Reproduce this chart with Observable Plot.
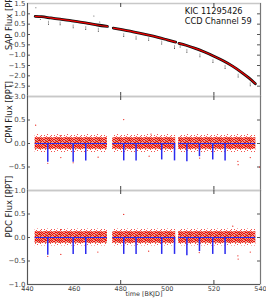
<!DOCTYPE html>
<html>
<head>
<meta charset="utf-8">
<script src="https://cdn.jsdelivr.net/npm/d3@7"></script>
<script src="https://cdn.jsdelivr.net/npm/@observablehq/plot@0.6"></script>
<style>
  body { margin: 0; background: #fff; }
  #wrap { position: relative; width: 266px; height: 300px; overflow: hidden; font-family: "DejaVu Sans", sans-serif; }
  #wrap svg.panel { position: absolute; left: 0; }
</style>
</head>
<body>
<svg width="0" height="0" style="position:absolute"><defs id="defs"></defs></svg>
<div id="wrap"></div>
<script>
// ---------- data ----------
const xTicks = [440, 460, 480, 500, 520, 540];
const xMarkTicks = [480, 520];
const sapTicks = [1.5, 1.0, 0.5, 0.0, -0.5, -1.0, -1.5, -2.0, -2.5, -3.0];
const sapInnerTicks = [1.0, 0.5, 0.0, -0.5, -1.0, -1.5, -2.0, -2.5];
const fluxTicks = [0.5, 0.0, -0.5, -1.0];
const fluxInnerTicks = [0.5, 0.0, -0.5];

// observing segments (BKJD)
const segStart = [443.3, 476.6, 504.9];
const segEnd = [474.3, 503.6, 538.0];

// SAP trend (black points + red model), per segment
const sapTime = [443.3, 446, 450, 454, 458, 462, 466, 470, 474.3,
                 476.8, 480, 484, 488, 492, 496, 500, 503.6,
                 505.0, 508, 512, 516, 520, 524, 528, 532, 535, 537.8];
const sapFlux = [0.88, 0.86, 0.80, 0.74, 0.68, 0.61, 0.54, 0.46, 0.39,
                 0.31, 0.25, 0.16, 0.07, -0.03, -0.14, -0.26, -0.37,
                 -0.43, -0.52, -0.67, -0.85, -1.05, -1.27, -1.53, -1.84, -2.10, -2.38];
const sapSeg = [0,0,0,0,0,0,0,0,0, 1,1,1,1,1,1,1,1, 2,2,2,2,2,2,2,2,2,2];

// SAP dips / outliers (streak bottom and top)
const sapDipTime = [449.0, 454.0, 459.6, 465.0, 470.4, 481.3, 486.6, 492.0, 497.6, 503.1, 505.5, 508.4, 514.0, 519.6, 524.8, 530.4, 535.6];
const sapDipLow  = [0.50, 0.47, 0.33, 0.24, 0.16, -0.10, -0.22, -0.28, -0.46, -0.68, -0.60, -0.86, -1.08, -1.36, -1.64, -2.06, -2.48];
const sapDipHigh = [0.64, 0.60, 0.46, 0.38, 0.30, 0.04, -0.08, -0.16, -0.32, -0.54, -0.52, -0.72, -0.94, -1.22, -1.50, -1.92, -2.34];
const sapOutTime = [443.6, 445.5, 468.5, 471.0];
const sapOutFlux = [1.30, 0.72, 0.90, 0.60];

// transits (blue model dips)
const transitTime = [448.7, 459.6, 465.0, 481.3, 486.6, 497.6, 503.1, 508.4, 513.8, 519.5, 524.8];
const cpmDepth = [-0.40, -0.40, -0.37, -0.37, -0.37, -0.35, -0.37, -0.39, -0.28, -0.35, -0.37];
const pdcDepth = [-0.38, -0.36, -0.36, -0.36, -0.36, -0.36, -0.36, -0.39, -0.30, -0.36, -0.36];

// noise band envelopes per segment (dense core, sparse fringe)
const cpmBandLow = [-0.12, -0.12, -0.12];
const cpmBandHigh = [0.12, 0.12, 0.12];
const cpmFringeLow = [-0.19, -0.19, -0.19];
const cpmFringeHigh = [0.19, 0.19, 0.19];
const pdcBandLow = [-0.12, -0.12, -0.12];
const pdcBandHigh = [0.12, 0.12, 0.12];
const pdcFringeLow = [-0.18, -0.18, -0.18];
const pdcFringeHigh = [0.18, 0.18, 0.18];

// residual outliers
const cpmOutTime = [443.5, 448.7, 454.0, 454.3, 459.6, 470.3, 481.3, 492.2, 493.0, 513.9, 530.3, 530.4, 535.6, 539.6];
const cpmOutFlux = [0.39, -0.42, 0.17, -0.30, -0.41, -0.29, 0.51, -0.27, 0.20, -0.31, -0.38, -0.45, -0.30, -0.50];
const pdcOutTime = [448.7, 454.2, 454.3, 470.2, 481.3, 492.0, 513.7, 528.1, 530.3, 530.4, 535.6];
const pdcOutFlux = [-0.40, 0.17, -0.36, -0.31, 0.49, -0.29, -0.32, 0.24, -0.39, -0.46, -0.31];

const labels = ["SAP Flux [PPT]", "CPM Flux [PPT]", "PDC Flux [PPT]"];
const annotText = ["KIC 11295426", "CCD Channel 59"];
const annotTime = [507.5, 507.5];
const annotFlux = [1.11, 0.63];
const xLabel = "time [BKJD]";

// ---------- speckle textures (style only) ----------
(function buildPatterns() {
  const redRows = ["1011001010", "0100110101", "1010011010", "0101100101", "1010010011", "0101001100", "1000110010", "0011001001"];
  const sparseRows = ["1000001000", "0001000010", "0100000100", "0000100001", "0010000000", "1000010000", "0000000100", "0100100000"];
  const oliveCells = [[4,0],[9,2],[6,4],[0,5],[7,6],[5,7]];
  let s = '<pattern id="noise" width="10" height="8" patternUnits="userSpaceOnUse">';
  s += '<rect width="10" height="8" fill="#e77e69" fill-opacity="0.75"/>';
  redRows.forEach((row, y) => [...row].forEach((c, x) => {
    if (c === "1") s += `<rect x="${x}" y="${y}" width="1" height="1" fill="#f00a05"/>`;
  }));
  oliveCells.forEach(([x, y]) => s += `<rect x="${x}" y="${y}" width="1" height="1" fill="#9a8a62"/>`);
  s += '</pattern>';
  s += '<pattern id="fringe" width="10" height="8" patternUnits="userSpaceOnUse">';
  sparseRows.forEach((row, y) => [...row].forEach((c, x) => {
    if (c === "1") s += `<rect x="${x}" y="${y}" width="1" height="1" fill="#f2241c" fill-opacity="0.8"/>`;
  }));
  s += '</pattern>';
  document.getElementById("defs").innerHTML = s;
})();

// ---------- helpers ----------
const sap = sapTime.map((t, i) => ({t, f: sapFlux[i], s: sapSeg[i]}));
const dips = sapDipTime.map((t, i) => ({t, lo: sapDipLow[i], hi: sapDipHigh[i]}));
const sapOut = sapOutTime.map((t, i) => ({t, f: sapOutFlux[i]}));
const bandRows = (lo, hi) => segStart.flatMap((s, i) => [
  {t: s, lo: lo[i], hi: hi[i], s: i}, {t: segEnd[i], lo: lo[i], hi: hi[i], s: i}]);
const segRows = segStart.map((s, i) => ({a: s, b: segEnd[i]}));
const transits = (depth) => transitTime.map((t, i) => ({t, d: depth[i]}));
const pts = (T, F) => T.map((t, i) => ({t, f: F[i]}));
const fmt = d3.format(".1f");
const FONT = "DejaVu Sans";
const BLUE = "#2b2bef";
const RED = "#e8150c";

function frameMarks(yLabelText, ticks, innerTicks, frameH) {
  return [
    Plot.frame({stroke: "#c8c8c8", strokeWidth: 1.5}),
    Plot.ruleX([440], {stroke: "#555", strokeWidth: 1}),
    Plot.ruleX([540], {stroke: "#777", strokeWidth: 1}),
    Plot.tickY(innerTicks, {y: d => d, stroke: "#555", insetLeft: 230}),
    Plot.tickY(innerTicks, {y: d => d, stroke: "#555", insetRight: 230}),
    Plot.tickX(xMarkTicks, {x: d => d, stroke: "#444", insetBottom: frameH - 4}),
    Plot.tickX(xMarkTicks, {x: d => d, stroke: "#444", insetTop: frameH - 4}),
    Plot.axisY(ticks, {tickSize: 0, tickPadding: 2, fontSize: 7, fill: "#444", tickFormat: fmt}),
    Plot.text([yLabelText], {text: d => d, frameAnchor: "left", dx: -18.5, rotate: -90, fontSize: 8.4, fill: "#222"})
  ];
}

const common = {
  width: 266, marginLeft: 27, marginRight: 6,
  x: {domain: [440, 540], axis: null},
  className: "panel",
  style: {background: "transparent", overflow: "visible", fontFamily: FONT}
};

// ---------- panel 1: SAP ----------
const p1 = Plot.plot({
  ...common, height: 96, marginTop: 3, marginBottom: 0,
  y: {domain: [-3, 1.5], axis: null},
  marks: [
    ...frameMarks(labels[0], sapTicks, sapInnerTicks, 93),
    Plot.ruleX(dips, {x: "t", y1: "lo", y2: "hi", stroke: "#444", strokeWidth: 0.8, strokeOpacity: 0.6}),
    Plot.dot(dips, {x: "t", y: "lo", r: 0.5, fill: "#222", stroke: null}),
    Plot.dot(sapOut, {x: "t", y: "f", r: 0.5, fill: "#444", stroke: null}),
    Plot.line(sap, {x: "t", y: "f", z: "s", stroke: "#111", strokeWidth: 2.8, curve: "monotone-x"}),
    Plot.line(sap, {x: "t", y: "f", z: "s", stroke: "#e00", strokeWidth: 1.2, curve: "monotone-x"}),
    Plot.text(annotText, {x: (d, i) => annotTime[i], y: (d, i) => annotFlux[i], text: d => d, textAnchor: "start", fontSize: 8.2, fill: "#111"})
  ]
});

function residualPlot(label, fringeLo, fringeHi, bandLo, bandHi, depth, outT, outF, bottom) {
  return Plot.plot({
    ...common, height: bottom ? 110 : 94, marginTop: 0, marginBottom: bottom ? 16 : 0,
    y: {domain: [-1, 1], axis: null},
    marks: [
      ...frameMarks(label, fluxTicks, fluxInnerTicks, 94),
      Plot.areaY(bandRows(fringeLo, fringeHi), {x: "t", y1: "lo", y2: "hi", z: "s", fill: "url(#fringe)"}),
      Plot.areaY(bandRows(bandLo, bandHi), {x: "t", y1: "lo", y2: "hi", z: "s", fill: "url(#noise)"}),
      Plot.dot(pts(outT, outF), {x: "t", y: "f", r: 0.6, fill: RED, stroke: null}),
      Plot.ruleY(segRows, {x1: "a", x2: "b", y: 0, stroke: BLUE, strokeWidth: 1}),
      Plot.ruleX(transits(depth), {x: "t", y1: 0, y2: "d", stroke: BLUE, strokeWidth: 1.5}),
      ...(bottom ? [
        Plot.ruleY([-1], {stroke: "#555", strokeWidth: 1}),
        Plot.axisX(xTicks, {anchor: "bottom", tickSize: 0, tickPadding: 1.5, fontSize: 6.5, fill: "#444", tickFormat: d => String(d), label: null}),
        Plot.text([xLabel], {text: d => d, frameAnchor: "bottom", dy: 11, fontSize: 6.4, fill: "#333"})
      ] : [])
    ]
  });
}

const p2 = residualPlot(labels[1], cpmFringeLow, cpmFringeHigh, cpmBandLow, cpmBandHigh, cpmDepth, cpmOutTime, cpmOutFlux, false);
const p3 = residualPlot(labels[2], pdcFringeLow, pdcFringeHigh, pdcBandLow, pdcBandHigh, pdcDepth, pdcOutTime, pdcOutFlux, true);

const wrap = document.getElementById("wrap");
[[p1, 0], [p2, 96], [p3, 190]].forEach(([p, top]) => {
  p.style.top = top + "px";
  wrap.appendChild(p);
});
</script>
</body>
</html>
